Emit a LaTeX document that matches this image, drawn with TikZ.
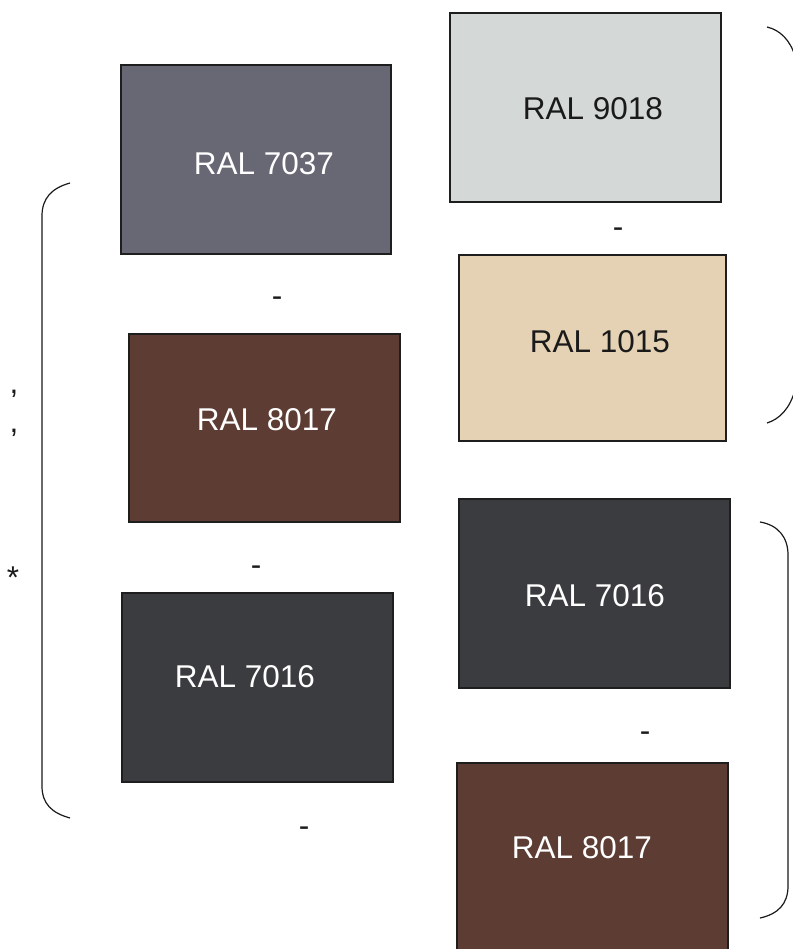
\documentclass[tikz,border=0pt]{standalone}
\usepackage{fontspec}
\setmainfont{Liberation Sans}
\definecolor{c7037}{HTML}{676874}
\definecolor{c9018}{HTML}{D4D8D7}
\definecolor{c1015}{HTML}{E5D2B4}
\definecolor{c8017}{HTML}{5D3D33}
\definecolor{c7016}{HTML}{3B3C40}
\definecolor{boxedge}{HTML}{1E1E1E}
\definecolor{ink}{HTML}{1A1A1A}
\begin{document}
\begin{tikzpicture}[x=1pt,y=-1pt,
  swatch/.style={draw=boxedge, line width=1.5pt, inner sep=0pt},
  lbl/.style={anchor=base, inner sep=0pt, font=\fontsize{31.5}{36}\selectfont},
  lightlbl/.style={lbl, text=ink},
  darklbl/.style={lbl, text=white},
  signlbl/.style={anchor=base, inner sep=0pt, text=ink, font=\fontsize{31.5}{36}\selectfont},
  bracket/.style={draw=ink, line width=1.2pt}]
\useasboundingbox (0,0) rectangle (792,949);
\fill[white] (0,0) rectangle (792,949);

% swatches
\node[swatch, fill=c7037, minimum width=270pt, minimum height=189pt] (s7037) at (256,159.5) {};
\node[swatch, fill=c9018, minimum width=271pt, minimum height=189pt] (s9018) at (585.5,107.5) {};
\node[swatch, fill=c1015, minimum width=267pt, minimum height=186pt] (s1015) at (592.5,348) {};
\node[swatch, fill=c8017, minimum width=271pt, minimum height=188pt] (s8017a) at (264.5,428) {};
\node[swatch, fill=c7016, minimum width=271pt, minimum height=189pt] (s7016a) at (257.5,687.5) {};
\node[swatch, fill=c7016, minimum width=271pt, minimum height=189pt] (s7016b) at (594.5,593.5) {};
\node[swatch, fill=c8017, minimum width=271pt, minimum height=189pt] (s8017b) at (592.5,857.5) {};

% labels
\node[darklbl]  (t7037)  at (264,175) {RAL 7037};
\node[lightlbl] (t9018)  at (593,120) {RAL 9018};
\node[lightlbl] (t1015)  at (600,352) {RAL 1015};
\node[darklbl]  (t8017a) at (267,430) {RAL 8017};
\node[darklbl]  (t7016a) at (245,687) {RAL 7016};
\node[darklbl]  (t7016b) at (595,606) {RAL 7016};
\node[darklbl]  (t8017b) at (582,858) {RAL 8017};

% dashes
\node[signlbl] (d1) at (277,306) {-};
\node[signlbl] (d2) at (618,238) {-};
\node[signlbl] (d3) at (256,575) {-};
\node[signlbl] (d4) at (645,741) {-};
\node[signlbl] (d5) at (304,836) {-};

% left marks
\node[signlbl] (m1) at (14,393) {,};
\node[signlbl] (m2) at (14,432) {,};
\node[signlbl] (m3) at (13,588) {*};

% brackets
\draw[bracket] (70,183) .. controls (52,188) and (42,198) .. (42,216)
  -- (42,786) .. controls (42,804) and (52,813) .. (70,818);
\draw[bracket] (767,27) .. controls (780,30) and (790,40) .. (795,56)
  -- (795,390) .. controls (790,408) and (780,419) .. (767,423);
\draw[bracket] (760,522) .. controls (778,525) and (788,537) .. (788,555)
  -- (788,886) .. controls (788,904) and (778,914) .. (760,918);
\end{tikzpicture}
\end{document}
